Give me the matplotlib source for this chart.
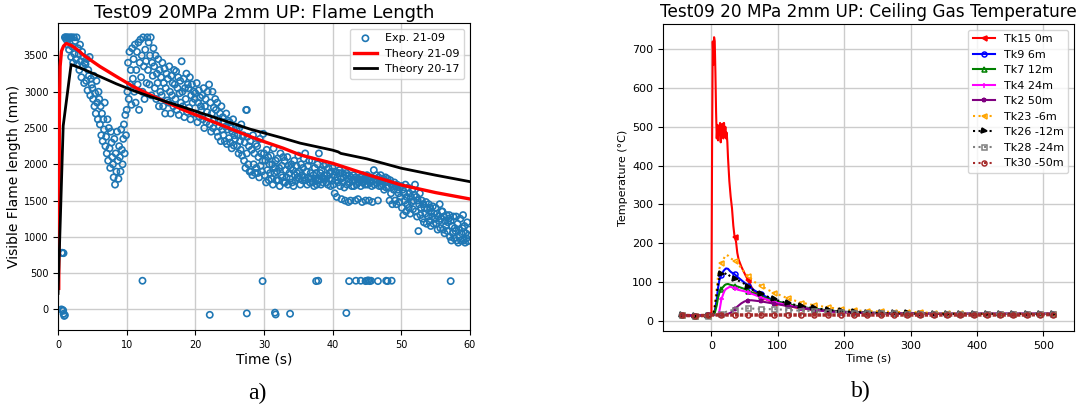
import numpy as np
import matplotlib
matplotlib.use('Agg')
import matplotlib.pyplot as plt
from matplotlib.lines import Line2D

# ---------------- (a) Flame length data ----------------
exp_start_s = 1.0          # first sample time of the dense record
exp_step_s = 0.1           # sample interval
# visible flame length in cm (x10 -> mm), one row per second starting at 1 s
exp_len_cm = [
    [375, 375, 372, 375, 365, 375, 358, 374, 375, 348],
    [375, 362, 340, 375, 352, 370, 345, 375, 338, 360],
    [352, 330, 365, 342, 320, 355, 335, 348, 312, 340],
    [338, 315, 345, 302, 330, 322, 348, 295, 318, 310],
    [305, 290, 322, 280, 298, 270, 315, 285, 262, 300],
    [290, 255, 280, 240, 270, 232, 262, 248, 285, 225],
    [238, 215, 262, 205, 250, 222, 195, 245, 230, 210],
    [200, 182, 235, 172, 215, 190, 245, 205, 180, 225],
    [210, 190, 248, 220, 200, 235, 255, 215, 268, 240],
    [275, 300, 340, 290, 355, 310, 330, 282, 360, 318],
    [345, 300, 365, 285, 330, 355, 310, 368, 275, 340],
    [372, 320, 350, 300, 375, 335, 290, 358, 342, 312],
    [375, 330, 368, 310, 350, 375, 295, 340, 322, 360],
    [335, 305, 350, 290, 325, 312, 345, 280, 330, 300],
    [320, 295, 340, 280, 312, 332, 270, 305, 325, 288],
    [318, 285, 335, 300, 270, 322, 295, 312, 280, 330],
    [310, 290, 328, 275, 305, 320, 268, 298, 315, 285],
    [342, 300, 280, 318, 265, 305, 290, 325, 272, 310],
    [305, 278, 320, 262, 295, 310, 285, 270, 300, 290],
    [298, 270, 312, 258, 285, 302, 265, 292, 280, 275],
    [295, 262, 305, 250, 280, 290, 258, 272, 300, 265],
    [310, 255, 285, 245, 270, 300, 250, 278, 262, 290],
    [275, 245, 285, 238, 262, 252, 270, 232, 280, 248],
    [265, 240, 258, 232, 252, 270, 228, 248, 260, 236],
    [258, 230, 250, 222, 245, 262, 226, 240, 235, 252],
    [248, 225, 240, 215, 250, 232, 220, 255, 212, 238],
    [240, 205, 230, 195, 275, 215, 238, 200, 225, 190],
    [232, 190, 220, 185, 240, 200, 215, 188, 228, 195],
    [225, 188, 210, 182, 235, 198, 215, 190, 205, 242],
    [215, 185, 205, 175, 220, 192, 210, 178, 200, 188],
    [212, 180, 200, 172, 222, 188, 195, 205, 178, 190],
    [208, 178, 195, 170, 215, 185, 198, 182, 210, 175],
    [205, 175, 192, 182, 210, 172, 198, 188, 180, 195],
    [200, 175, 192, 170, 205, 185, 178, 198, 188, 182],
    [212, 180, 190, 172, 200, 185, 178, 195, 208, 182],
    [215, 178, 190, 172, 198, 182, 205, 175, 188, 180],
    [205, 175, 185, 170, 195, 180, 188, 172, 200, 178],
    [215, 178, 188, 172, 192, 182, 175, 198, 185, 180],
    [200, 175, 185, 172, 195, 180, 188, 170, 190, 178],
    [195, 172, 185, 160, 190, 178, 155, 182, 175, 188],
    [192, 170, 180, 152, 188, 175, 182, 168, 150, 185],
    [188, 172, 180, 148, 185, 175, 150, 182, 170, 178],
    [185, 170, 178, 150, 182, 172, 180, 152, 175, 178],
    [182, 170, 178, 148, 185, 175, 180, 172, 150, 178],
    [185, 172, 180, 150, 178, 175, 182, 170, 148, 178],
    [192, 172, 180, 175, 185, 178, 150, 182, 170, 176],
    [185, 170, 178, 172, 180, 165, 175, 182, 168, 176],
    [180, 168, 175, 150, 178, 160, 172, 145, 170, 165],
    [175, 150, 170, 145, 172, 165, 160, 148, 168, 155],
    [170, 140, 165, 130, 160, 150, 172, 135, 155, 145],
    [168, 140, 160, 132, 155, 148, 165, 138, 150, 158],
    [172, 135, 155, 128, 150, 108, 145, 160, 130, 140],
    [150, 125, 145, 120, 140, 132, 148, 118, 138, 128],
    [145, 122, 140, 115, 135, 128, 142, 118, 132, 125],
    [140, 118, 132, 110, 128, 122, 145, 112, 125, 135],
    [135, 110, 128, 105, 122, 115, 130, 108, 120, 125],
    [130, 100, 122, 95, 115, 105, 128, 98, 112, 108],
    [128, 95, 118, 92, 110, 100, 125, 95, 105, 112],
    [130, 95, 115, 92, 105, 98, 120, 94, 102, 110],
]
# isolated readings (s, mm)
exp_extra_t = [0.55, 0.65, 0.8, 0.5, 0.7, 0.8, 0.9, 1.0, 0.75,
               12.3, 29.8, 37.6, 37.9, 42.4, 43.4, 44.1, 44.8, 45.0, 45.2, 45.4,
               45.6, 46.6, 47.8, 48.0, 48.6, 57.2,
               22.1, 27.5, 31.6, 31.7, 33.8, 42.0, 27.5]
exp_extra_y = [780, 780, 775, 0, -10, -60, -90, -80, -20,
               395, 390, 390, 395, 390, 395, 395, 390, 395, 400, 390,
               395, 390, 395, 390, 395, 390,
               -75, -55, -45, -70, -60, -50, 2750]

th2109_t = [0.1, 0.15, 0.2, 0.3, 0.5, 0.8, 1.2, 2.0, 3.0, 3.65, 5.0, 6.1, 8.5, 10.95,
            13.4, 18.25, 23.1, 28.0, 30.0, 32.8, 35.3, 40.0, 45.0, 50.0, 55.0, 60.0]
th2109_y = [290, 1500, 2800, 3350, 3560, 3630, 3665, 3635, 3565, 3510, 3420, 3348, 3210, 3072,
            2957, 2750, 2567, 2382, 2313, 2222, 2129, 2014, 1860, 1715, 1610, 1522]

th2017_t = [0.0, 0.75, 1.9, 2.5, 3.65, 6.1, 8.5, 10.95, 13.4, 18.25, 23.1, 28.0, 32.8, 35.3,
            40.0, 40.8, 41.2, 45.0, 50.0, 55.0, 60.0]
th2017_y = [220, 2530, 3375, 3355, 3312, 3210, 3109, 3017, 2934, 2788, 2636, 2484, 2360, 2291,
            2195, 2172, 2150, 2075, 1946, 1850, 1761]

# ---------------- (b) Ceiling gas temperature data ----------------
t_grid = [-45, -25, -5, 0, 3, 5, 8, 10, 12, 15, 18, 20, 22, 25, 28, 30, 35, 40, 45, 50,
          55, 60, 65, 75, 85, 95, 115, 135, 155, 175, 195, 215, 235, 255, 275, 295, 315,
          335, 355, 375, 395, 415, 435, 455, 475, 495, 515]
tk9 = [15, 13, 14, 16, 18, 25, 55, 85, 105, 118, 128, 132, 135, 134, 128, 125, 120, 112, 105, 98,
       90, 84, 78, 68, 60, 52, 42, 35, 30, 26, 23, 22, 21, 20, 19, 19, 18,
       18, 18, 18, 18, 18, 18, 18, 18, 18, 18]
tk7 = [15, 13, 14, 15, 16, 20, 40, 60, 72, 82, 88, 92, 94, 95, 93, 92, 90, 88, 85, 82,
       78, 74, 70, 63, 57, 52, 43, 36, 31, 27, 24, 22, 21, 20, 19, 19, 18,
       18, 18, 18, 18, 18, 18, 18, 18, 18, 18]
tk4 = [15, 13, 14, 15, 15, 15, 15, 16, 25, 55, 70, 78, 82, 85, 88, 87, 84, 80, 78, 76,
       73, 70, 67, 60, 54, 48, 40, 34, 29, 25, 22, 21, 20, 19, 19, 18, 18,
       18, 18, 18, 18, 18, 18, 18, 18, 18, 18]
tk2 = [15, 13, 14, 15, 15, 15, 15, 15, 15, 15, 15, 15, 16, 18, 20, 22, 30, 38, 45, 50,
       52, 53, 52, 50, 47, 44, 38, 33, 28, 25, 22, 21, 20, 20, 19, 19, 20,
       18, 18, 18, 18, 18, 18, 18, 18, 18, 18]
tk23 = [15, 12, 13, 15, 20, 40, 85, 115, 135, 148, 158, 165, 170, 168, 162, 160, 155, 148, 135, 125,
        115, 108, 100, 90, 80, 72, 58, 47, 40, 35, 30, 27, 25, 24, 23, 22, 22,
        20, 19, 19, 18, 18, 18, 18, 18, 18, 18]
tk26 = [15, 12, 13, 15, 20, 35, 70, 95, 110, 120, 122, 118, 124, 120, 115, 112, 108, 104, 100, 95,
        88, 82, 77, 70, 62, 55, 45, 38, 33, 28, 25, 23, 21, 20, 19, 19, 18,
        18, 18, 18, 18, 18, 18, 18, 18, 18, 18]
tk28 = [15, 12, 13, 15, 15, 15, 15, 16, 17, 18, 20, 22, 23, 25, 26, 27, 28, 30, 31, 32,
        32, 32, 31, 31, 30, 30, 28, 26, 25, 23, 22, 21, 20, 19, 19, 18, 18,
        18, 18, 18, 18, 18, 18, 18, 18, 18, 18]
tk30 = [14, 13, 14, 15, 15, 15, 15, 15, 15, 15, 15, 15, 15, 15, 15, 15, 15, 15, 15, 15,
        15, 15, 15, 15, 15, 15, 15, 15, 15, 15, 15, 15, 15, 15, 15, 15, 15,
        15, 15, 15, 15, 15, 15, 15, 15, 16, 16]
t_tk15 = [-45, -25, -5, 0, 1, 2, 3, 4, 5, 6, 7, 8, 9, 10, 11, 12, 13, 14, 15, 16, 17, 18, 19,
          20, 21, 22, 23, 24, 25, 27, 29, 31, 33, 35, 37, 39, 41, 45, 50, 55, 60, 65, 75,
          85, 95, 115, 135, 155, 175, 195, 215, 235, 255, 275, 295, 315, 335, 355, 375,
          395, 415, 435, 455, 475, 495, 515]
tk15 = [15, 13, 14, 20, 450, 720, 660, 731, 720, 640, 540, 470, 505, 465, 500, 480, 510, 460,
        505, 490, 500, 470, 510, 475, 500, 470, 485, 460, 420, 360, 320, 290, 245, 215, 205,
        175, 158, 140, 122, 105, 88, 75, 62, 53, 47, 38, 32, 28, 25, 23, 22, 21, 20, 19,
        19, 18, 18, 18, 18, 18, 18, 18, 18, 18, 18, 18]

temp_labels = ['Tk15 0m', 'Tk9 6m', 'Tk7 12m', 'Tk4 24m', 'Tk2 50m',
               'Tk23 -6m', 'Tk26 -12m', 'Tk28 -24m', 'Tk30 -50m']

# ---------------- figure ----------------
fig = plt.figure(figsize=(10.81, 4.07), dpi=100)
axL = fig.add_axes([0.0537, 0.189, 0.381, 0.754])
axR = fig.add_axes([0.6133, 0.187, 0.380, 0.754])

blue = '#1f77b4'
exp_y = np.array(exp_len_cm, dtype=float).ravel() * 10.0
exp_t = exp_start_s + exp_step_s * np.arange(exp_y.size)
axL.scatter(np.concatenate([exp_t, exp_extra_t]), np.concatenate([exp_y, exp_extra_y]),
            s=20, facecolors='none', edgecolors=blue, linewidths=1.2,
            label='Exp. 21-09', zorder=2)
axL.plot(th2109_t, th2109_y, color='red', lw=2.4, label='Theory 21-09', zorder=3)
axL.plot(th2017_t, th2017_y, color='black', lw=2.0, label='Theory 20-17', zorder=4)
axL.set_xlim(0, 60)
axL.set_ylim(-285, 3945)
axL.set_xticks(range(0, 61, 10))
axL.set_yticks(range(0, 3501, 500))
axL.tick_params(labelsize=7)
axL.grid(True, color='#cccccc', lw=1.0)
axL.set_axisbelow(True)
axL.set_title('Test09 20MPa 2mm UP: Flame Length', fontsize=13, pad=4)
axL.set_xlabel('Time (s)', fontsize=10, labelpad=2)
axL.set_ylabel('Visible Flame length (mm)', fontsize=10, labelpad=2)
axL.legend(loc='upper right', fontsize=8, framealpha=0.8)

marker_times = set(range(-45, 516, 20))
def mk(ts):
    return [i for i, t in enumerate(ts) if t in marker_times]

styles = [
    (t_tk15, tk15, 'red', '-', '<', 'red'),
    (t_grid, tk9, 'blue', '-', 'o', 'none'),
    (t_grid, tk7, 'green', '-', '^', 'none'),
    (t_grid, tk4, 'magenta', '-', '+', 'none'),
    (t_grid, tk2, 'purple', '-', '*', 'purple'),
    (t_grid, tk23, 'orange', ':', '<', 'none'),
    (t_grid, tk26, 'black', ':', '>', 'black'),
    (t_grid, tk28, 'gray', ':', 's', 'none'),
    (t_grid, tk30, 'brown', (0, (1, 0.4)), 'o', 'none'),
]
handles = []
for (ts, ys, c, ls, m, mfc), lab in zip(styles, temp_labels):
    lw = 2.5 if c == 'brown' else 1.5
    ln, = axR.plot(ts, ys, color=c, ls=ls, lw=lw, marker=m, mfc=mfc, mec=c,
                   ms=3.6, mew=1.1, markevery=mk(ts), label=lab)
    if c == 'brown':
        handles.append(Line2D([], [], color=c, ls=':', lw=1.5, marker=m, mfc='none',
                              mec=c, ms=3.6, mew=1.1, label=lab))
    else:
        handles.append(ln)
axR.set_xlim(-73, 546)
axR.set_ylim(-26, 765)
axR.set_xticks(range(0, 501, 100))
axR.set_yticks(range(0, 701, 100))
axR.tick_params(labelsize=8)
axR.grid(True, color='#cccccc', lw=1.0)
axR.set_axisbelow(True)
axR.set_title('Test09 20 MPa 2mm UP: Ceiling Gas Temperature', fontsize=12.2, pad=5)
axR.set_xlabel('Time (s)', fontsize=8, labelpad=2)
axR.set_ylabel('Temperature (°C)', fontsize=8, labelpad=3)
axR.legend(handles=handles, loc='upper right', fontsize=8, framealpha=0.8)

fig.text(257 / 1081, 1 - 393 / 407, 'a)', family='Liberation Serif', fontsize=17,
         ha='center', va='center')
fig.text(861 / 1081, 1 - 391 / 407, 'b)', family='Liberation Serif', fontsize=17,
         ha='center', va='center')

fig.savefig('out.png', dpi=100)
